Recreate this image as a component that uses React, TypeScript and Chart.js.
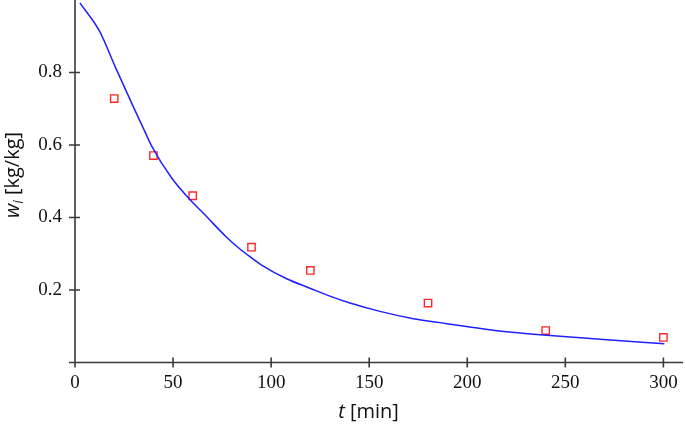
import React, { useEffect, useRef } from 'react';
import { Chart, registerables } from 'chart.js';

Chart.register(...registerables);

// model curve (t in min, w in kg/kg)
const curveT = [2.5, 12.5, 20.4, 29.7, 34.7, 39.1, 49.3, 57.5, 67.2, 77, 84.1, 89.2, 96.0, 107.9, 119.8, 130.0, 140.2, 155.5, 172.5, 186.1, 203.1, 220.1, 237.1, 266.0, 300.5];
const curveW = [0.992, 0.914, 0.817, 0.706, 0.648, 0.597, 0.509, 0.456, 0.402, 0.347, 0.313, 0.292, 0.266, 0.231, 0.205, 0.183, 0.164, 0.141, 0.121, 0.110, 0.0966, 0.0845, 0.0764, 0.0646, 0.0516];

// measured points
const measT = [20, 40, 60, 90, 120, 180, 240, 300];
const measW = [0.728, 0.571, 0.460, 0.318, 0.254, 0.164, 0.088, 0.069];

const xTickValues = [0, 50, 100, 150, 200, 250, 300];
const yTickValues = [0, 0.2, 0.4, 0.6, 0.8];
const xMin = 0, xMax = 310, yMin = 0, yMax = 1.0;

const AXIS_COLOR = '#3a3a3a';

const axesPlugin = {
  id: 'customAxes',
  beforeDatasetsDraw(chart: any) {
    const { ctx, chartArea, scales } = chart;
    const xs = scales.x, ys = scales.y;
    const x0 = xs.getPixelForValue(xMin);
    const y0 = ys.getPixelForValue(yMin);
    ctx.save();
    ctx.strokeStyle = AXIS_COLOR;
    ctx.lineWidth = 1.6;
    ctx.beginPath();
    ctx.moveTo(x0, chartArea.top);
    ctx.lineTo(x0, y0);
    ctx.moveTo(x0, y0);
    ctx.lineTo(chartArea.right, y0);
    const half = 5;
    xs.ticks.forEach((t: any) => {
      const px = xs.getPixelForValue(t.value);
      ctx.moveTo(px, y0 - half);
      ctx.lineTo(px, y0 + half);
    });
    ys.ticks.forEach((t: any) => {
      const py = ys.getPixelForValue(t.value);
      ctx.moveTo(x0 - 6, py);
      ctx.lineTo(x0 + 5, py);
    });
    ctx.stroke();
    ctx.restore();
  },
};

const titlesPlugin = {
  id: 'customTitles',
  afterDraw(chart: any) {
    const { ctx } = chart;
    ctx.save();
    ctx.fillStyle = '#111';
    ctx.textBaseline = 'alphabetic';
    ctx.textAlign = 'left';
    const fi = 'italic 20px "Open Sans"';
    const fn = '20px "Open Sans"';
    ctx.font = fi;
    const wT = ctx.measureText('t').width;
    ctx.font = fn;
    const wRest = ctx.measureText(' [min]').width;
    const sx = 368.5 - (wT + wRest) / 2;
    ctx.font = fi;
    ctx.fillText('t', sx, 418);
    ctx.font = fn;
    ctx.fillText(' [min]', sx + wT, 418);

    ctx.translate(19, 175);
    ctx.rotate(-Math.PI / 2);
    const fs = 'italic 14px "Open Sans"';
    ctx.font = fi;
    const ww = ctx.measureText('w').width;
    ctx.font = fs;
    const wi = ctx.measureText('i').width;
    ctx.font = fn;
    const wr = ctx.measureText(' [kg/kg]').width;
    const s = -(ww + wi + wr) / 2;
    ctx.font = fi;
    ctx.fillText('w', s, 0);
    ctx.font = fs;
    ctx.fillText('i', s + ww, 4);
    ctx.font = fn;
    ctx.fillText(' [kg/kg]', s + ww + wi, 0);
    ctx.restore();
  },
};

export default function App() {
  const ref = useRef<HTMLCanvasElement | null>(null);
  useEffect(() => {
    if (!ref.current) return;
    const chart = new Chart(ref.current, {
      type: 'line',
      data: {
        datasets: [
          {
            type: 'line',
            data: curveT.map((t, i) => ({ x: t, y: curveW[i] })),
            borderColor: '#1f1fff',
            borderWidth: 1.5,
            pointRadius: 0,
            cubicInterpolationMode: 'monotone',
            fill: false,
          } as any,
          {
            type: 'scatter',
            data: measT.map((t, i) => ({ x: t, y: measW[i] })),
            pointStyle: 'rect',
            pointRadius: 5.2,
            borderColor: 'rgb(255,40,40)',
            backgroundColor: 'rgba(255,255,255,0)',
            borderWidth: 1.4,
          } as any,
        ],
      },
      options: {
        animation: false,
        responsive: true,
        maintainAspectRatio: false,
        layout: { autoPadding: false, padding: { top: 0, right: 2, left: 0, bottom: 0 } },
        plugins: { legend: { display: false }, tooltip: { enabled: false } },
        scales: {
          x: {
            type: 'linear',
            min: xMin,
            max: xMax,
            grid: { display: false, drawTicks: false },
            border: { display: false },
            afterBuildTicks: (scale: any) => {
              scale.ticks = xTickValues.map((v) => ({ value: v }));
            },
            afterFit: (scale: any) => {
              scale.height = 65.5;
              scale.paddingLeft = 0;
              scale.paddingRight = 0;
            },
            ticks: {
              autoSkip: false,
              maxRotation: 0,
              padding: 9,
              color: '#111',
              font: { family: '"Liberation Serif"', size: 19 },
              callback: (v: any) => String(v),
            },
          },
          y: {
            type: 'linear',
            min: yMin,
            max: yMax,
            grid: { display: false, drawTicks: false },
            border: { display: false },
            afterBuildTicks: (scale: any) => {
              scale.ticks = yTickValues.map((v) => ({ value: v }));
            },
            afterFit: (scale: any) => {
              scale.width = 75;
              scale.paddingTop = 0;
              scale.paddingBottom = 0;
            },
            ticks: {
              autoSkip: false,
              padding: 13,
              color: '#111',
              font: { family: '"Liberation Serif"', size: 19 },
              callback: (v: any) => (v === 0 ? '' : Number(v).toFixed(1)),
            },
          },
        },
      },
      plugins: [axesPlugin, titlesPlugin],
    });
    return () => chart.destroy();
  }, []);
  return (
    <div style={{ position: 'absolute', left: 0, top: 0, width: 685, height: 428 }}>
      <canvas ref={ref} />
    </div>
  );
}
